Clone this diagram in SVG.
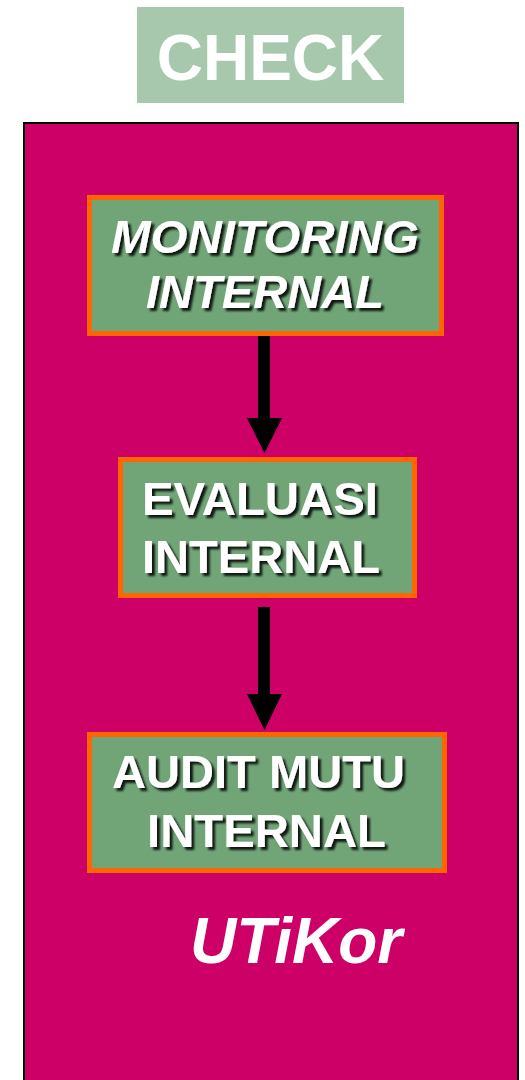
<svg xmlns="http://www.w3.org/2000/svg" width="525" height="1080" viewBox="0 0 525 1080">
  <defs>
    <style>
      .box { fill: #71a578; stroke: #ff6600; stroke-width: 5; }
      .lbl { font-family: "Liberation Sans", Arial, sans-serif; font-weight: bold; font-size: 46px; fill: #ffffff; filter: url(#shadow); }
      .it { font-style: italic; }
      .arrow { fill: #000000; }
    </style>
    <filter id="shadow" x="-10%" y="-30%" width="125%" height="170%">
      <feGaussianBlur in="SourceAlpha" stdDeviation="1"/>
      <feOffset dx="3" dy="3" result="off"/>
      <feFlood flood-color="#000000" flood-opacity="0.85"/>
      <feComposite in2="off" operator="in"/>
      <feMerge>
        <feMergeNode/>
        <feMergeNode in="SourceGraphic"/>
      </feMerge>
    </filter>
  </defs>
  <rect width="525" height="1080" fill="#ffffff"/>

  <!-- title tab -->
  <g id="title">
    <rect x="137" y="7" width="267" height="96" fill="#a8c8ae"/>
    <text x="270.5" y="80" text-anchor="middle" font-family="Liberation Sans, Arial, sans-serif" font-weight="bold" font-size="64" fill="#ffffff">CHECK</text>
  </g>

  <!-- outer unit panel -->
  <g id="panel">
    <rect x="24" y="123" width="494" height="962" fill="#cc0066" stroke="#000000" stroke-width="2"/>
  </g>

  <!-- connectors -->
  <g id="connectors">
    <path class="arrow" d="M258 330 H270 V418 H282 L264.5 453 L247 418 H258 Z"/>
    <path class="arrow" d="M258 607 H270 V694 H282 L264.5 730 L247 694 H258 Z"/>
  </g>

  <g id="monitoring">
    <rect class="box" x="89.5" y="197.5" width="352" height="136"/>
    <text class="lbl it" x="111" y="253" textLength="308" lengthAdjust="spacingAndGlyphs">MONITORING</text>
    <text class="lbl it" x="146" y="308" textLength="238" lengthAdjust="spacingAndGlyphs">INTERNAL</text>
  </g>

  <g id="evaluasi">
    <rect class="box" x="120.5" y="459.5" width="294" height="136"/>
    <text class="lbl" x="142" y="515" textLength="236" lengthAdjust="spacingAndGlyphs">EVALUASI</text>
    <text class="lbl" x="142" y="573" textLength="238" lengthAdjust="spacingAndGlyphs">INTERNAL</text>
  </g>

  <g id="audit">
    <rect class="box" x="89.5" y="734.5" width="355" height="136"/>
    <text class="lbl" x="112" y="788" textLength="293" lengthAdjust="spacingAndGlyphs">AUDIT MUTU</text>
    <text class="lbl" x="147" y="847" textLength="239" lengthAdjust="spacingAndGlyphs">INTERNAL</text>
  </g>

  <g id="unit-name">
    <text x="190" y="963" font-family="Liberation Sans, Arial, sans-serif" font-weight="bold" font-style="italic" font-size="64" fill="#ffffff">UTiKor</text>
  </g>
</svg>
